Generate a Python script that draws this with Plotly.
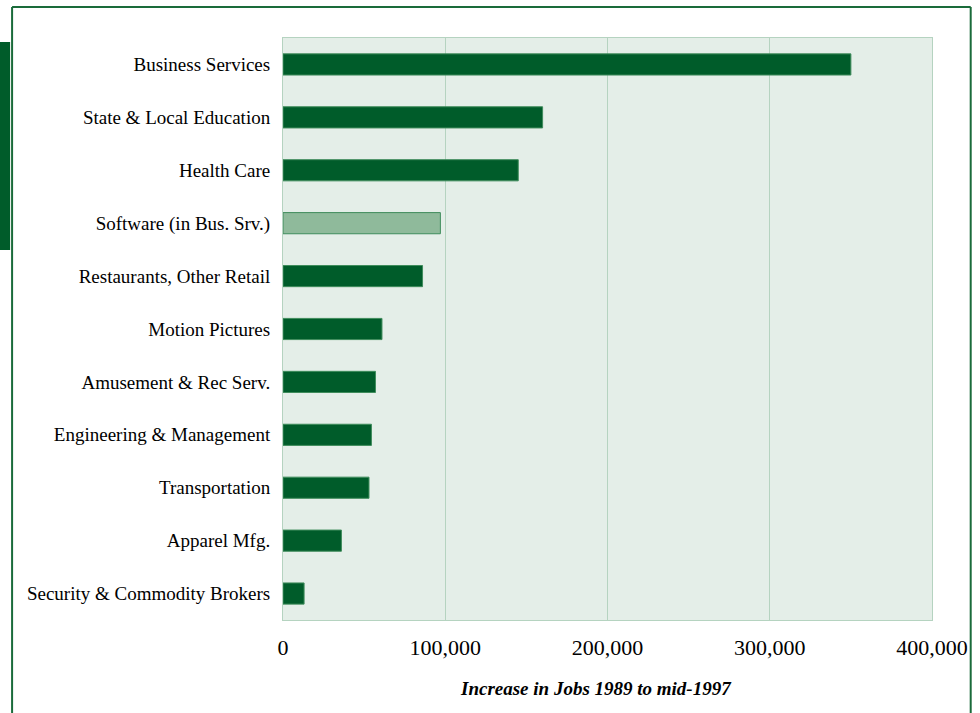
import plotly.graph_objects as go

categories = [
    "Business Services",
    "State & Local Education",
    "Health Care",
    "Software (in Bus. Srv.)",
    "Restaurants, Other Retail",
    "Motion Pictures",
    "Amusement & Rec Serv.",
    "Engineering & Management",
    "Transportation",
    "Apparel Mfg.",
    "Security & Commodity Brokers",
]
values = [350000, 160000, 145000, 97000, 86000, 61000, 57000, 54500, 53000, 36000, 13000]
highlight = "Software (in Bus. Srv.)"
x_ticks = [0, 100000, 200000, 300000, 400000]
x_tick_labels = ["0", "100,000", "200,000", "300,000", "400,000"]
x_title = "Increase in Jobs 1989 to mid-1997"

DARK = "#005c2a"
LIGHT = "#8fba9b"
colors = [LIGHT if c == highlight else DARK for c in categories]

W, H = 980, 713
L, R, T, B = 283, 937, 38, 620

fig = go.Figure(go.Bar(
    x=values, y=categories, orientation="h",
    marker=dict(color=colors, line=dict(color="#3f8c5c", width=1)),
    width=0.4, hoverinfo="skip",
))


def px_x(p):
    return (p - L) / (R - L)


def px_y(p):
    return (B - p) / (B - T)


BORDER = "#1a6b3a"
shapes = [
    dict(type="line", xref="paper", yref="paper", x0=px_x(10), x1=px_x(10), y0=px_y(7), y1=px_y(720),
         line=dict(color=BORDER, width=2)),
    dict(type="line", xref="paper", yref="paper", x0=px_x(10), x1=px_x(976), y0=px_y(7), y1=px_y(7),
         line=dict(color=BORDER, width=2)),
    dict(type="line", xref="paper", yref="paper", x0=px_x(976), x1=px_x(976), y0=px_y(7), y1=px_y(720),
         line=dict(color=BORDER, width=2)),
    dict(type="rect", xref="paper", yref="paper", x0=px_x(-3), x1=px_x(8), y0=px_y(250), y1=px_y(42),
         fillcolor=DARK, line=dict(width=0)),
]

fig.update_layout(
    width=W, height=H,
    margin=dict(l=L, r=W - R, t=T, b=H - B),
    paper_bgcolor="white",
    plot_bgcolor="#e4eee8",
    font=dict(family="Liberation Serif, Times New Roman, serif", color="black"),
    showlegend=False,
    shapes=shapes,
    bargap=0.6,
    annotations=[dict(
        text="<b><i>" + x_title + "</i></b>", xref="paper", yref="paper",
        x=px_x(598), y=px_y(688), xanchor="center", yanchor="middle", showarrow=False,
        font=dict(size=19, family="Liberation Serif, serif", color="black"),
    )],
)
fig.update_xaxes(
    range=[0, 400000], tickvals=x_ticks, ticktext=x_tick_labels,
    showgrid=True, gridcolor="#b5d3c0", gridwidth=1, zeroline=False,
    showline=True, mirror=True, linecolor="#b5d3c0", linewidth=1,
    tickfont=dict(size=22), ticklabelstandoff=8,
)
fig.update_yaxes(
    autorange="reversed", showgrid=False, zeroline=False,
    showline=True, mirror=True, linecolor="#b5d3c0", linewidth=1,
    tickfont=dict(size=19), ticklabelstandoff=8,
)

fig.write_html(
    "out.html",
    config={"displayModeBar": False, "staticPlot": True},
    post_script=(
        "document.documentElement.style.margin='0';document.documentElement.style.overflow='hidden';"
        "document.body.style.margin='0';document.body.style.overflow='hidden';"
    ),
)
